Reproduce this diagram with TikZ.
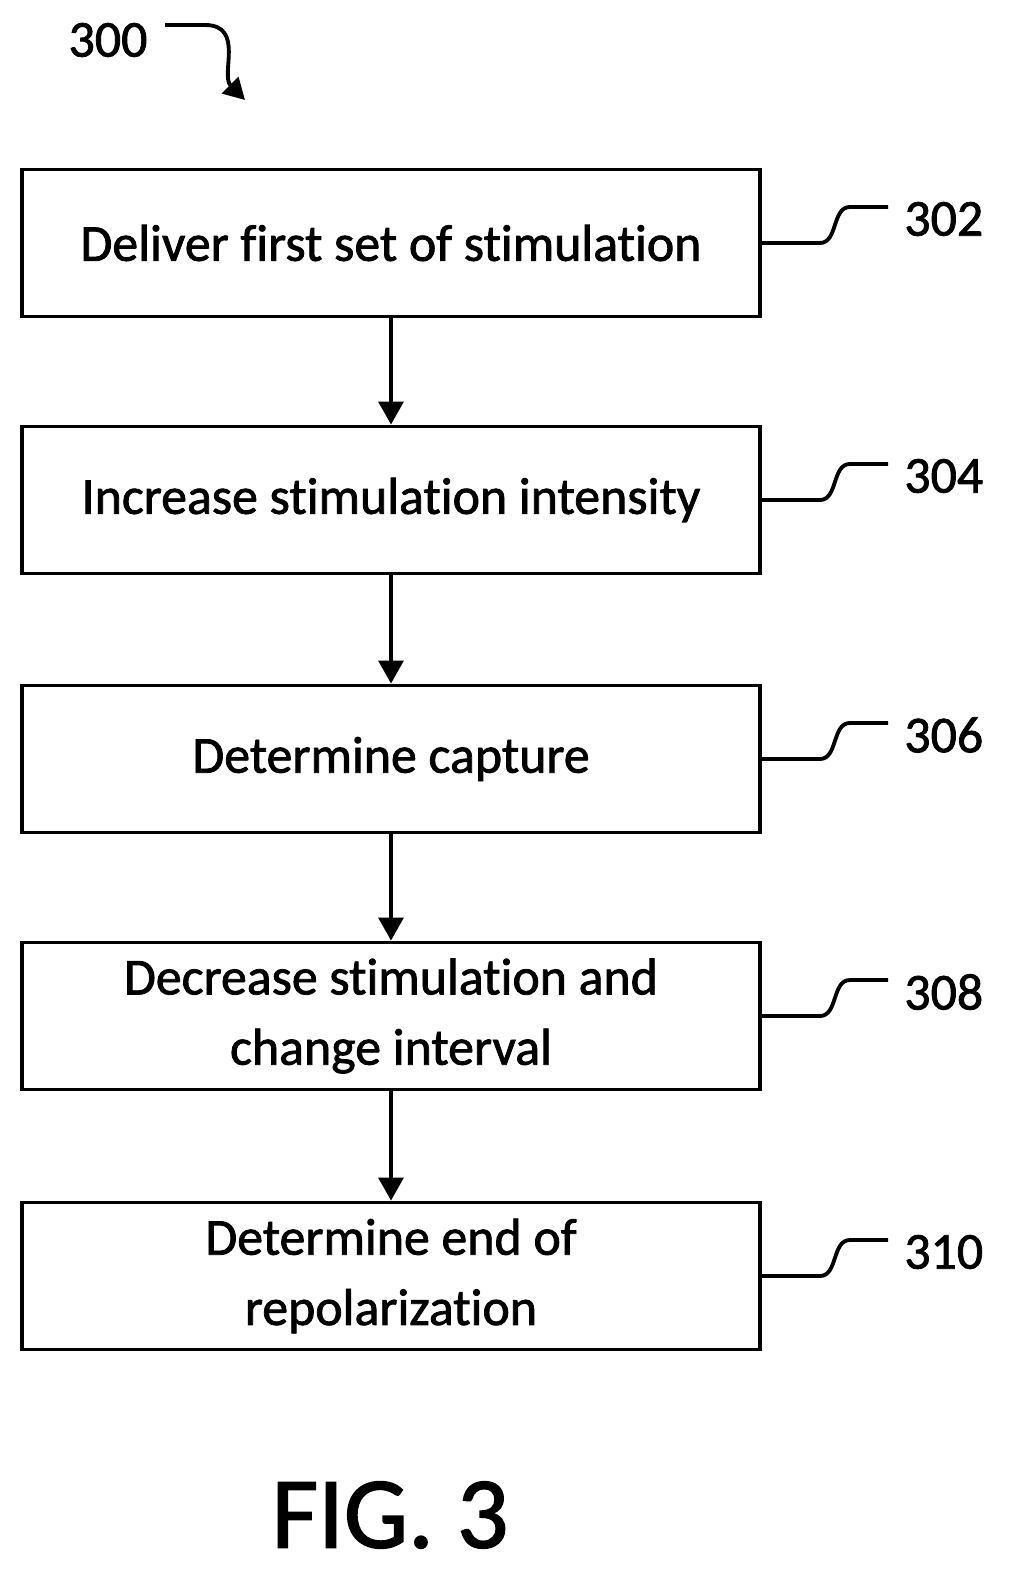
\documentclass[tikz,border=0pt]{standalone}
\usepackage{fontspec}
\setmainfont{Carlito}[RawFeature=-liga,FakeBold=1.5]
\usetikzlibrary{arrows.meta}
\begin{document}
\begin{tikzpicture}[x=0.02cm,y=-0.02cm,
  box/.style={draw,line width=2.2pt,minimum width=738*0.02cm,minimum height=147*0.02cm,align=center,font=\fontsize{29.5}{40}\selectfont,inner sep=0pt},
  lbl/.style={font=\fontsize{29.5}{30}\selectfont,anchor=west,inner sep=0pt},
  ln/.style={line width=2.2pt},
  arr/.style={line width=2.2pt,-{Triangle[length=13pt,width=14pt]}}]
\useasboundingbox (0,0) rectangle (1026,1595);
\node[box] (b1) at (391,243) {Deliver first set of stimulation};
\node[box] (b2) at (391,500) {Increase stimulation intensity};
\node[box] (b3) at (391,759) {Determine capture};
\node[box] (b4) at (391,1016) {Decrease stimulation and\\change interval};
\node[box] (b5) at (391,1276) {Determine end of\\repolarization};
\foreach \a/\b in {b1/b2,b2/b3,b3/b4,b4/b5} \draw[arr] (\a) -- (\b);
\foreach \n/\t/\y in {b1/302/243,b2/304/500,b3/306/759,b4/308/1016,b5/310/1276}{
  \coordinate (e\n) at (888,\y-36);
  \draw[ln] (\n.east) -- ++(58,0) .. controls +(18,0) and +(-18,0) .. ++(30,-36) -- (e\n);
  \node[lbl] (l\n) at (904,\y-24) {\t};
}
\node[font=\fontsize{29.5}{30}\selectfont] (t300) at (108,40) {300};
\coordinate (c1) at (165,25);
\coordinate (c2) at (245,100);
\draw[ln,-{Triangle[length=12pt,width=13pt]}] (c1) -- (205,25) .. controls (245,25) and (220,75) .. (c2);
\node[font=\fontsize{58}{60}\selectfont] (fig) at (390,1515) {FIG. 3};
\end{tikzpicture}
\end{document}
